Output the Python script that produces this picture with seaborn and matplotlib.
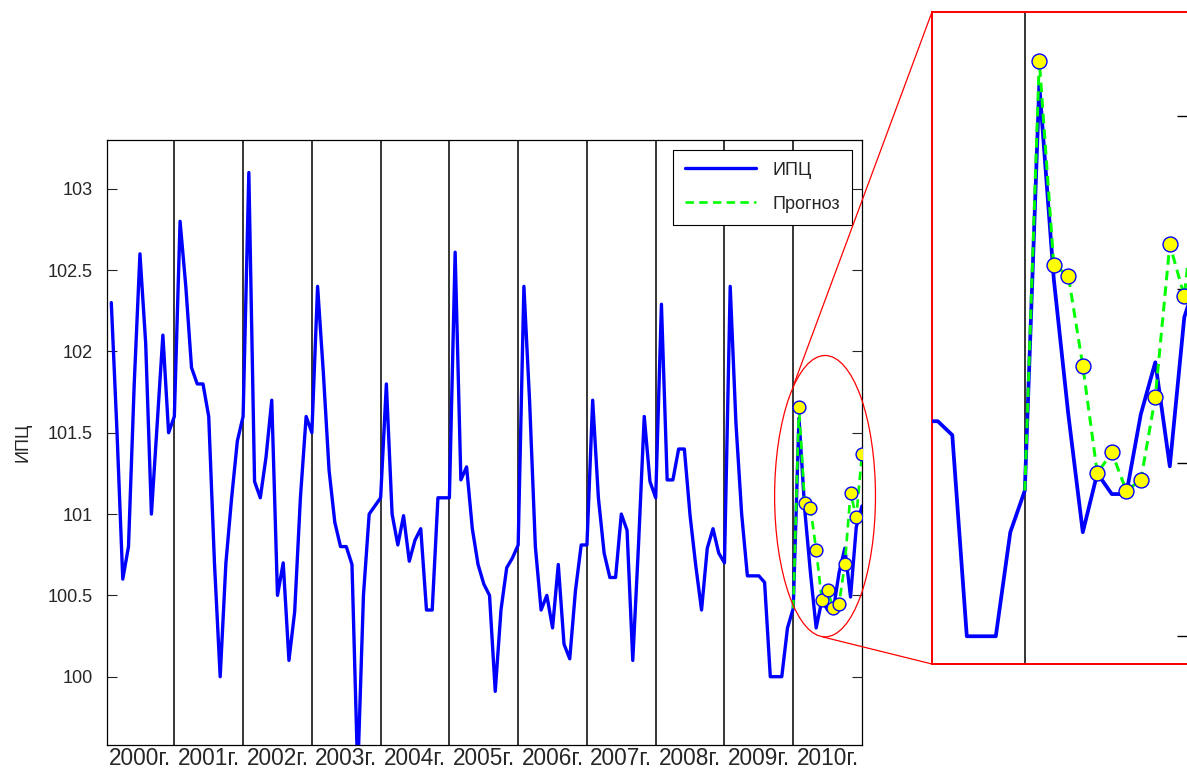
import numpy as np
import pandas as pd
import matplotlib
matplotlib.use("Agg")
import matplotlib.pyplot as plt
import seaborn as sns
from matplotlib.lines import Line2D
from matplotlib.patches import Ellipse

# monthly CPI (% to previous month), Jan 2000 .. Dec 2010
cpi = [
    102.3, 101.5, 100.6, 100.8, 101.8, 102.6, 102.05, 101.0, 101.55, 102.1, 101.5, 101.6,      # 2000
    102.8, 102.4, 101.9, 101.8, 101.8, 101.6, 100.7, 100.0, 100.7, 101.1, 101.45, 101.6,       # 2001
    103.1, 101.2, 101.1, 101.35, 101.7, 100.5, 100.7, 100.1, 100.4, 101.1, 101.6, 101.5,       # 2002
    102.4, 101.87, 101.27, 100.95, 100.8, 100.8, 100.69, 99.4, 100.5, 101.0, 101.05, 101.1,    # 2003
    101.8, 101.0, 100.81, 100.99, 100.71, 100.84, 100.91, 100.41, 100.41, 101.1, 101.1, 101.1, # 2004
    102.61, 101.21, 101.29, 100.91, 100.69, 100.57, 100.5, 99.91, 100.41, 100.67, 100.73, 100.81,  # 2005
    102.4, 101.69, 100.8, 100.41, 100.5, 100.3, 100.69, 100.2, 100.11, 100.53, 100.81, 100.81,  # 2006
    101.7, 101.1, 100.76, 100.61, 100.61, 101.0, 100.9, 100.1, 100.81, 101.6, 101.2, 101.1,    # 2007
    102.29, 101.21, 101.21, 101.4, 101.4, 100.99, 100.68, 100.41, 100.79, 100.91, 100.76, 100.7,  # 2008
    102.4, 101.56, 101.0, 100.62, 100.62, 100.62, 100.58, 100.0, 100.0, 100.0, 100.3, 100.42,  # 2009
    101.59, 101.03, 100.64, 100.3, 100.47, 100.41, 100.41, 100.64, 100.79, 100.49, 100.92, 101.05,  # 2010
]
# forecast for 2010
forecast = [101.66, 101.07, 101.04, 100.78, 100.47, 100.53, 100.42, 100.45, 100.69, 101.13, 100.98, 101.37]

years = list(range(2000, 2011))
year_labels = [f"{y}г." for y in years]
y_ticks = [100, 100.5, 101, 101.5, 102, 102.5, 103]

BLUE = "#0000ff"
GREEN = "#00ff00"
YELLOW = "#ffff00"
RED = "#ff0000"

W, H = 1187, 768


def draw_series(ax, lw, ms):
    df = pd.DataFrame({"month": np.arange(1, len(cpi) + 1), "cpi": cpi})
    sns.lineplot(data=df, x="month", y="cpi", ax=ax, color=BLUE, lw=lw, zorder=3)
    # forecast line starts from the last actual value of 2009
    fc_x = np.arange(len(cpi) - len(forecast), len(cpi) + 1)
    fc_y = [cpi[len(cpi) - len(forecast) - 1]] + forecast
    sns.lineplot(x=fc_x, y=fc_y, ax=ax, color=GREEN, lw=lw * 0.8,
                 linestyle=(0, (3.2, 2.0)), zorder=4)
    sns.scatterplot(x=fc_x[1:], y=forecast, ax=ax, s=ms, color=YELLOW,
                    edgecolor=BLUE, linewidth=1.0, zorder=5)
    for i in range(1, len(years)):
        ax.axvline(12 * i, color="black", lw=1.1, zorder=2)
    ax.set_xlabel("")
    ax.set_ylabel("")


def main():
    sns.set_style("white")
    plt.rcParams["font.family"] = ["Liberation Sans", "DejaVu Sans"]

    fig = plt.figure(figsize=(W / 100, H / 100), dpi=100, facecolor="white")

    # main axes
    ax = fig.add_axes([107 / W, 1 - 745 / H, 755 / W, 605 / H])
    draw_series(ax, 2.4, 85)
    ax.set_xlim(0.25, 132)
    ax.set_ylim(99.58, 103.30)
    ax.set_yticks(y_ticks)
    ax.set_yticklabels([f"{v:g}" for v in y_ticks])
    ax.set_xticks([6 + 12 * i for i in range(len(years))])
    ax.set_xticklabels(year_labels)
    ax.tick_params(axis="y", direction="in", length=7, width=0.8, left=True,
                   right=True, labelsize=13, pad=10)
    ax.tick_params(axis="x", length=0, labelsize=16.3, pad=1.5)
    for s in ax.spines.values():
        s.set_color("black")
        s.set_linewidth(0.9)
    ax.set_ylabel("ИПЦ", fontsize=13)
    ax.yaxis.set_label_coords(-0.10, 0.5)

    handles = [Line2D([], [], color=BLUE, lw=2.4),
               Line2D([], [], color=GREEN, lw=1.9, linestyle=(0, (3.2, 2.0)))]
    leg = ax.legend(handles, ["ИПЦ", "Прогноз"], loc="upper right", fontsize=13,
                    frameon=True, fancybox=False, framealpha=1, edgecolor="black",
                    handlelength=3.9, handletextpad=0.95, borderpad=0.65,
                    labelspacing=0.95, borderaxespad=0.55)
    leg.get_frame().set_linewidth(0.8)

    ax.add_patch(Ellipse((125.55, 101.11), 17.6, 1.73, fill=False, edgecolor=RED,
                         lw=0.9, clip_on=False, zorder=6))

    # zoomed inset (runs past the right edge of the figure)
    ax2 = fig.add_axes([932 / W, 1 - 664 / H, 266.8 / W, 652 / H])
    draw_series(ax2, 2.7, 115)
    ax2.set_xlim(113.6, 132)
    ax2.set_ylim(99.92, 101.80)
    ax2.set_xticks([])
    ax2.set_yticks([100, 100.5, 101, 101.5])
    ax2.yaxis.tick_right()
    ax2.tick_params(axis="y", direction="in", length=16, width=1.0,
                    colors="black", labelright=False)
    for s in ax2.spines.values():
        s.set_color(RED)
        s.set_linewidth(1.4)

    # connector lines from ellipse to inset
    for (x0, y0), (x1, y1) in [((794, 384), (932, 12)), ((823, 637), (932, 664))]:
        fig.add_artist(Line2D([x0 / W, x1 / W], [1 - y0 / H, 1 - y1 / H],
                              color=RED, lw=0.9, transform=fig.transFigure))

    fig.savefig("out.png", dpi=100, facecolor="white")
    plt.close(fig)


if __name__ == "__main__":
    main()
